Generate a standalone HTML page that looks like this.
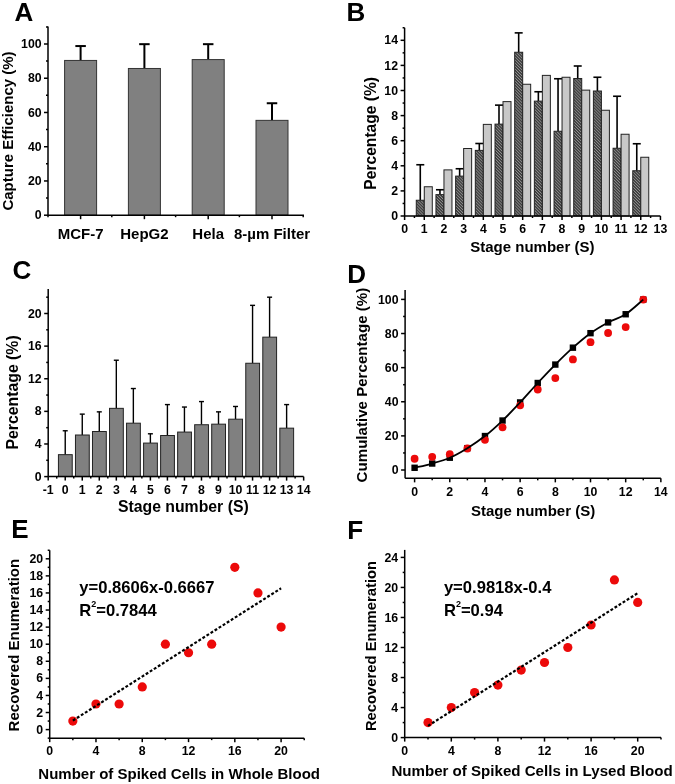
<!DOCTYPE html>
<html><head><meta charset="utf-8"><title>Figure</title>
<style>
html,body{margin:0;padding:0;background:#fff;}
body{width:675px;height:784px;overflow:hidden;}
svg{display:block;font-family:"Liberation Sans", sans-serif;will-change:transform;}
</style></head><body>
<svg width="675" height="784" viewBox="0 0 675 784" font-family='"Liberation Sans", sans-serif' fill="#000">
<defs>
<pattern id="hatch" patternUnits="userSpaceOnUse" width="2.1" height="2.1" patternTransform="rotate(-45)">
<rect width="2.1" height="2.1" fill="#383838"/>
<rect x="0" y="0" width="0.85" height="2.1" fill="#909090"/>
</pattern>
</defs>
<rect width="675" height="784" fill="#fff"/>
<text x="14.50" y="20.50" font-size="26" text-anchor="start" font-weight="bold" >A</text>
<line x1="80.60" y1="60.44" x2="80.60" y2="46.05" stroke="#000" stroke-width="2" />
<line x1="75.35" y1="46.05" x2="85.85" y2="46.05" stroke="#000" stroke-width="2" />
<rect x="64.60" y="60.44" width="32.00" height="154.76" fill="#808080" stroke="#333" stroke-width="1"/>
<line x1="144.40" y1="68.48" x2="144.40" y2="44.17" stroke="#000" stroke-width="2" />
<line x1="139.15" y1="44.17" x2="149.65" y2="44.17" stroke="#000" stroke-width="2" />
<rect x="128.40" y="68.48" width="32.00" height="146.72" fill="#808080" stroke="#333" stroke-width="1"/>
<line x1="208.20" y1="59.58" x2="208.20" y2="44.17" stroke="#000" stroke-width="2" />
<line x1="202.95" y1="44.17" x2="213.45" y2="44.17" stroke="#000" stroke-width="2" />
<rect x="192.20" y="59.58" width="32.00" height="155.62" fill="#808080" stroke="#333" stroke-width="1"/>
<line x1="272.00" y1="120.36" x2="272.00" y2="103.24" stroke="#000" stroke-width="2" />
<line x1="266.75" y1="103.24" x2="277.25" y2="103.24" stroke="#000" stroke-width="2" />
<rect x="256.00" y="120.36" width="32.00" height="94.84" fill="#808080" stroke="#333" stroke-width="1"/>
<line x1="48.00" y1="215.20" x2="304.00" y2="215.20" stroke="#000" stroke-width="1.5" />
<line x1="48.00" y1="215.20" x2="48.00" y2="26.50" stroke="#000" stroke-width="1.5" />
<line x1="44.00" y1="215.20" x2="48.00" y2="215.20" stroke="#000" stroke-width="1.5" />
<text x="41.60" y="219.30" font-size="12.3" text-anchor="end" font-weight="bold" >0</text>
<line x1="44.00" y1="180.96" x2="48.00" y2="180.96" stroke="#000" stroke-width="1.5" />
<text x="41.60" y="185.06" font-size="12.3" text-anchor="end" font-weight="bold" >20</text>
<line x1="44.00" y1="146.72" x2="48.00" y2="146.72" stroke="#000" stroke-width="1.5" />
<text x="41.60" y="150.82" font-size="12.3" text-anchor="end" font-weight="bold" >40</text>
<line x1="44.00" y1="112.48" x2="48.00" y2="112.48" stroke="#000" stroke-width="1.5" />
<text x="41.60" y="116.58" font-size="12.3" text-anchor="end" font-weight="bold" >60</text>
<line x1="44.00" y1="78.24" x2="48.00" y2="78.24" stroke="#000" stroke-width="1.5" />
<text x="41.60" y="82.34" font-size="12.3" text-anchor="end" font-weight="bold" >80</text>
<line x1="44.00" y1="44.00" x2="48.00" y2="44.00" stroke="#000" stroke-width="1.5" />
<text x="41.60" y="48.10" font-size="12.3" text-anchor="end" font-weight="bold" >100</text>
<line x1="46.00" y1="198.08" x2="48.00" y2="198.08" stroke="#000" stroke-width="1.5" />
<line x1="46.00" y1="163.84" x2="48.00" y2="163.84" stroke="#000" stroke-width="1.5" />
<line x1="46.00" y1="129.60" x2="48.00" y2="129.60" stroke="#000" stroke-width="1.5" />
<line x1="46.00" y1="95.36" x2="48.00" y2="95.36" stroke="#000" stroke-width="1.5" />
<line x1="46.00" y1="61.12" x2="48.00" y2="61.12" stroke="#000" stroke-width="1.5" />
<line x1="46.00" y1="26.88" x2="48.00" y2="26.88" stroke="#000" stroke-width="1.5" />
<line x1="80.60" y1="215.20" x2="80.60" y2="219.20" stroke="#000" stroke-width="1.5" />
<line x1="144.40" y1="215.20" x2="144.40" y2="219.20" stroke="#000" stroke-width="1.5" />
<line x1="208.20" y1="215.20" x2="208.20" y2="219.20" stroke="#000" stroke-width="1.5" />
<line x1="272.00" y1="215.20" x2="272.00" y2="219.20" stroke="#000" stroke-width="1.5" />
<line x1="48.00" y1="215.20" x2="48.00" y2="217.20" stroke="#000" stroke-width="1.5" />
<line x1="111.80" y1="215.20" x2="111.80" y2="217.20" stroke="#000" stroke-width="1.5" />
<line x1="175.60" y1="215.20" x2="175.60" y2="217.20" stroke="#000" stroke-width="1.5" />
<line x1="239.40" y1="215.20" x2="239.40" y2="217.20" stroke="#000" stroke-width="1.5" />
<line x1="303.20" y1="215.20" x2="303.20" y2="217.20" stroke="#000" stroke-width="1.5" />
<text x="80.60" y="238.70" font-size="15" text-anchor="middle" font-weight="bold" >MCF-7</text>
<text x="144.40" y="238.70" font-size="15" text-anchor="middle" font-weight="bold" >HepG2</text>
<text x="208.20" y="238.70" font-size="15" text-anchor="middle" font-weight="bold" >Hela</text>
<text x="272.00" y="238.70" font-size="15" text-anchor="middle" font-weight="bold" >8-µm Filter</text>
<text x="0" y="0" font-size="15" text-anchor="middle" font-weight="bold" transform="translate(13.30,131.00) rotate(-90)">Capture Efficiency (%)</text>
<text x="346.60" y="21.30" font-size="26" text-anchor="start" font-weight="bold" >B</text>
<line x1="420.28" y1="200.25" x2="420.28" y2="164.75" stroke="#000" stroke-width="1.6" />
<line x1="416.28" y1="164.75" x2="424.28" y2="164.75" stroke="#000" stroke-width="1.6" />
<rect x="416.28" y="200.25" width="8.00" height="15.75" fill="url(#hatch)" stroke="#222" stroke-width="1"/>
<rect x="424.28" y="186.75" width="8.00" height="29.25" fill="#c8c8c8" stroke="#222" stroke-width="1"/>
<line x1="439.96" y1="194.62" x2="439.96" y2="189.75" stroke="#000" stroke-width="1.6" />
<line x1="435.96" y1="189.75" x2="443.96" y2="189.75" stroke="#000" stroke-width="1.6" />
<rect x="435.96" y="194.62" width="8.00" height="21.38" fill="url(#hatch)" stroke="#222" stroke-width="1"/>
<rect x="443.96" y="169.88" width="8.00" height="46.12" fill="#c8c8c8" stroke="#222" stroke-width="1"/>
<line x1="459.64" y1="176.12" x2="459.64" y2="168.75" stroke="#000" stroke-width="1.6" />
<line x1="455.64" y1="168.75" x2="463.64" y2="168.75" stroke="#000" stroke-width="1.6" />
<rect x="455.64" y="176.12" width="8.00" height="39.88" fill="url(#hatch)" stroke="#222" stroke-width="1"/>
<rect x="463.64" y="148.50" width="8.00" height="67.50" fill="#c8c8c8" stroke="#222" stroke-width="1"/>
<line x1="479.32" y1="150.38" x2="479.32" y2="143.50" stroke="#000" stroke-width="1.6" />
<line x1="475.32" y1="143.50" x2="483.32" y2="143.50" stroke="#000" stroke-width="1.6" />
<rect x="475.32" y="150.38" width="8.00" height="65.62" fill="url(#hatch)" stroke="#222" stroke-width="1"/>
<rect x="483.32" y="124.38" width="8.00" height="91.62" fill="#c8c8c8" stroke="#222" stroke-width="1"/>
<line x1="499.00" y1="124.12" x2="499.00" y2="105.13" stroke="#000" stroke-width="1.6" />
<line x1="495.00" y1="105.13" x2="503.00" y2="105.13" stroke="#000" stroke-width="1.6" />
<rect x="495.00" y="124.12" width="8.00" height="91.88" fill="url(#hatch)" stroke="#222" stroke-width="1"/>
<rect x="503.00" y="101.62" width="8.00" height="114.38" fill="#c8c8c8" stroke="#222" stroke-width="1"/>
<line x1="518.68" y1="52.25" x2="518.68" y2="32.88" stroke="#000" stroke-width="1.6" />
<line x1="514.68" y1="32.88" x2="522.68" y2="32.88" stroke="#000" stroke-width="1.6" />
<rect x="514.68" y="52.25" width="8.00" height="163.75" fill="url(#hatch)" stroke="#222" stroke-width="1"/>
<rect x="522.68" y="84.25" width="8.00" height="131.75" fill="#c8c8c8" stroke="#222" stroke-width="1"/>
<line x1="538.36" y1="101.13" x2="538.36" y2="91.75" stroke="#000" stroke-width="1.6" />
<line x1="534.36" y1="91.75" x2="542.36" y2="91.75" stroke="#000" stroke-width="1.6" />
<rect x="534.36" y="101.13" width="8.00" height="114.87" fill="url(#hatch)" stroke="#222" stroke-width="1"/>
<rect x="542.36" y="75.38" width="8.00" height="140.62" fill="#c8c8c8" stroke="#222" stroke-width="1"/>
<line x1="558.04" y1="131.25" x2="558.04" y2="78.75" stroke="#000" stroke-width="1.6" />
<line x1="554.04" y1="78.75" x2="562.04" y2="78.75" stroke="#000" stroke-width="1.6" />
<rect x="554.04" y="131.25" width="8.00" height="84.75" fill="url(#hatch)" stroke="#222" stroke-width="1"/>
<rect x="562.04" y="77.25" width="8.00" height="138.75" fill="#c8c8c8" stroke="#222" stroke-width="1"/>
<line x1="577.72" y1="78.50" x2="577.72" y2="66.00" stroke="#000" stroke-width="1.6" />
<line x1="573.72" y1="66.00" x2="581.72" y2="66.00" stroke="#000" stroke-width="1.6" />
<rect x="573.72" y="78.50" width="8.00" height="137.50" fill="url(#hatch)" stroke="#222" stroke-width="1"/>
<rect x="581.72" y="90.13" width="8.00" height="125.87" fill="#c8c8c8" stroke="#222" stroke-width="1"/>
<line x1="597.40" y1="91.00" x2="597.40" y2="77.25" stroke="#000" stroke-width="1.6" />
<line x1="593.40" y1="77.25" x2="601.40" y2="77.25" stroke="#000" stroke-width="1.6" />
<rect x="593.40" y="91.00" width="8.00" height="125.00" fill="url(#hatch)" stroke="#222" stroke-width="1"/>
<rect x="601.40" y="110.25" width="8.00" height="105.75" fill="#c8c8c8" stroke="#222" stroke-width="1"/>
<line x1="617.08" y1="148.25" x2="617.08" y2="96.25" stroke="#000" stroke-width="1.6" />
<line x1="613.08" y1="96.25" x2="621.08" y2="96.25" stroke="#000" stroke-width="1.6" />
<rect x="613.08" y="148.25" width="8.00" height="67.75" fill="url(#hatch)" stroke="#222" stroke-width="1"/>
<rect x="621.08" y="134.25" width="8.00" height="81.75" fill="#c8c8c8" stroke="#222" stroke-width="1"/>
<line x1="636.76" y1="170.75" x2="636.76" y2="143.75" stroke="#000" stroke-width="1.6" />
<line x1="632.76" y1="143.75" x2="640.76" y2="143.75" stroke="#000" stroke-width="1.6" />
<rect x="632.76" y="170.75" width="8.00" height="45.25" fill="url(#hatch)" stroke="#222" stroke-width="1"/>
<rect x="640.76" y="157.25" width="8.00" height="58.75" fill="#c8c8c8" stroke="#222" stroke-width="1"/>
<line x1="404.60" y1="216.00" x2="660.44" y2="216.00" stroke="#000" stroke-width="1.5" />
<line x1="404.60" y1="216.00" x2="404.60" y2="27.75" stroke="#000" stroke-width="1.5" />
<line x1="400.60" y1="216.00" x2="404.60" y2="216.00" stroke="#000" stroke-width="1.5" />
<text x="398.00" y="220.10" font-size="12.3" text-anchor="end" font-weight="bold" >0</text>
<line x1="400.60" y1="190.90" x2="404.60" y2="190.90" stroke="#000" stroke-width="1.5" />
<text x="398.00" y="195.00" font-size="12.3" text-anchor="end" font-weight="bold" >2</text>
<line x1="400.60" y1="165.80" x2="404.60" y2="165.80" stroke="#000" stroke-width="1.5" />
<text x="398.00" y="169.90" font-size="12.3" text-anchor="end" font-weight="bold" >4</text>
<line x1="400.60" y1="140.70" x2="404.60" y2="140.70" stroke="#000" stroke-width="1.5" />
<text x="398.00" y="144.80" font-size="12.3" text-anchor="end" font-weight="bold" >6</text>
<line x1="400.60" y1="115.60" x2="404.60" y2="115.60" stroke="#000" stroke-width="1.5" />
<text x="398.00" y="119.70" font-size="12.3" text-anchor="end" font-weight="bold" >8</text>
<line x1="400.60" y1="90.50" x2="404.60" y2="90.50" stroke="#000" stroke-width="1.5" />
<text x="398.00" y="94.60" font-size="12.3" text-anchor="end" font-weight="bold" >10</text>
<line x1="400.60" y1="65.40" x2="404.60" y2="65.40" stroke="#000" stroke-width="1.5" />
<text x="398.00" y="69.50" font-size="12.3" text-anchor="end" font-weight="bold" >12</text>
<line x1="400.60" y1="40.30" x2="404.60" y2="40.30" stroke="#000" stroke-width="1.5" />
<text x="398.00" y="44.40" font-size="12.3" text-anchor="end" font-weight="bold" >14</text>
<line x1="402.60" y1="203.45" x2="404.60" y2="203.45" stroke="#000" stroke-width="1.5" />
<line x1="402.60" y1="178.35" x2="404.60" y2="178.35" stroke="#000" stroke-width="1.5" />
<line x1="402.60" y1="153.25" x2="404.60" y2="153.25" stroke="#000" stroke-width="1.5" />
<line x1="402.60" y1="128.15" x2="404.60" y2="128.15" stroke="#000" stroke-width="1.5" />
<line x1="402.60" y1="103.05" x2="404.60" y2="103.05" stroke="#000" stroke-width="1.5" />
<line x1="402.60" y1="77.95" x2="404.60" y2="77.95" stroke="#000" stroke-width="1.5" />
<line x1="402.60" y1="52.85" x2="404.60" y2="52.85" stroke="#000" stroke-width="1.5" />
<line x1="402.60" y1="27.75" x2="404.60" y2="27.75" stroke="#000" stroke-width="1.5" />
<line x1="404.60" y1="216.00" x2="404.60" y2="220.00" stroke="#000" stroke-width="1.5" />
<text x="404.60" y="233.00" font-size="12.3" text-anchor="middle" font-weight="bold" >0</text>
<line x1="424.28" y1="216.00" x2="424.28" y2="220.00" stroke="#000" stroke-width="1.5" />
<text x="424.28" y="233.00" font-size="12.3" text-anchor="middle" font-weight="bold" >1</text>
<line x1="443.96" y1="216.00" x2="443.96" y2="220.00" stroke="#000" stroke-width="1.5" />
<text x="443.96" y="233.00" font-size="12.3" text-anchor="middle" font-weight="bold" >2</text>
<line x1="463.64" y1="216.00" x2="463.64" y2="220.00" stroke="#000" stroke-width="1.5" />
<text x="463.64" y="233.00" font-size="12.3" text-anchor="middle" font-weight="bold" >3</text>
<line x1="483.32" y1="216.00" x2="483.32" y2="220.00" stroke="#000" stroke-width="1.5" />
<text x="483.32" y="233.00" font-size="12.3" text-anchor="middle" font-weight="bold" >4</text>
<line x1="503.00" y1="216.00" x2="503.00" y2="220.00" stroke="#000" stroke-width="1.5" />
<text x="503.00" y="233.00" font-size="12.3" text-anchor="middle" font-weight="bold" >5</text>
<line x1="522.68" y1="216.00" x2="522.68" y2="220.00" stroke="#000" stroke-width="1.5" />
<text x="522.68" y="233.00" font-size="12.3" text-anchor="middle" font-weight="bold" >6</text>
<line x1="542.36" y1="216.00" x2="542.36" y2="220.00" stroke="#000" stroke-width="1.5" />
<text x="542.36" y="233.00" font-size="12.3" text-anchor="middle" font-weight="bold" >7</text>
<line x1="562.04" y1="216.00" x2="562.04" y2="220.00" stroke="#000" stroke-width="1.5" />
<text x="562.04" y="233.00" font-size="12.3" text-anchor="middle" font-weight="bold" >8</text>
<line x1="581.72" y1="216.00" x2="581.72" y2="220.00" stroke="#000" stroke-width="1.5" />
<text x="581.72" y="233.00" font-size="12.3" text-anchor="middle" font-weight="bold" >9</text>
<line x1="601.40" y1="216.00" x2="601.40" y2="220.00" stroke="#000" stroke-width="1.5" />
<text x="601.40" y="233.00" font-size="12.3" text-anchor="middle" font-weight="bold" >10</text>
<line x1="621.08" y1="216.00" x2="621.08" y2="220.00" stroke="#000" stroke-width="1.5" />
<text x="621.08" y="233.00" font-size="12.3" text-anchor="middle" font-weight="bold" >11</text>
<line x1="640.76" y1="216.00" x2="640.76" y2="220.00" stroke="#000" stroke-width="1.5" />
<text x="640.76" y="233.00" font-size="12.3" text-anchor="middle" font-weight="bold" >12</text>
<line x1="660.44" y1="216.00" x2="660.44" y2="220.00" stroke="#000" stroke-width="1.5" />
<text x="660.44" y="233.00" font-size="12.3" text-anchor="middle" font-weight="bold" >13</text>
<line x1="414.44" y1="216.00" x2="414.44" y2="218.00" stroke="#000" stroke-width="1.5" />
<line x1="434.12" y1="216.00" x2="434.12" y2="218.00" stroke="#000" stroke-width="1.5" />
<line x1="453.80" y1="216.00" x2="453.80" y2="218.00" stroke="#000" stroke-width="1.5" />
<line x1="473.48" y1="216.00" x2="473.48" y2="218.00" stroke="#000" stroke-width="1.5" />
<line x1="493.16" y1="216.00" x2="493.16" y2="218.00" stroke="#000" stroke-width="1.5" />
<line x1="512.84" y1="216.00" x2="512.84" y2="218.00" stroke="#000" stroke-width="1.5" />
<line x1="532.52" y1="216.00" x2="532.52" y2="218.00" stroke="#000" stroke-width="1.5" />
<line x1="552.20" y1="216.00" x2="552.20" y2="218.00" stroke="#000" stroke-width="1.5" />
<line x1="571.88" y1="216.00" x2="571.88" y2="218.00" stroke="#000" stroke-width="1.5" />
<line x1="591.56" y1="216.00" x2="591.56" y2="218.00" stroke="#000" stroke-width="1.5" />
<line x1="611.24" y1="216.00" x2="611.24" y2="218.00" stroke="#000" stroke-width="1.5" />
<line x1="630.92" y1="216.00" x2="630.92" y2="218.00" stroke="#000" stroke-width="1.5" />
<line x1="650.60" y1="216.00" x2="650.60" y2="218.00" stroke="#000" stroke-width="1.5" />
<text x="532.30" y="251.60" font-size="15" text-anchor="middle" font-weight="bold" >Stage number (S)</text>
<text x="0" y="0" font-size="15.6" text-anchor="middle" font-weight="bold" transform="translate(375.60,133.30) rotate(-90)">Percentage (%)</text>
<text x="12.60" y="278.80" font-size="26" text-anchor="start" font-weight="bold" >C</text>
<line x1="65.23" y1="454.66" x2="65.23" y2="430.77" stroke="#000" stroke-width="1.4" />
<line x1="62.73" y1="430.77" x2="67.73" y2="430.77" stroke="#000" stroke-width="1.4" />
<rect x="58.43" y="454.66" width="13.80" height="21.94" fill="#808080" stroke="#222" stroke-width="1"/>
<line x1="82.26" y1="435.01" x2="82.26" y2="414.13" stroke="#000" stroke-width="1.4" />
<line x1="79.76" y1="414.13" x2="84.76" y2="414.13" stroke="#000" stroke-width="1.4" />
<rect x="75.46" y="435.01" width="13.80" height="41.59" fill="#808080" stroke="#222" stroke-width="1"/>
<line x1="99.29" y1="431.50" x2="99.29" y2="411.85" stroke="#000" stroke-width="1.4" />
<line x1="96.79" y1="411.85" x2="101.79" y2="411.85" stroke="#000" stroke-width="1.4" />
<rect x="92.49" y="431.50" width="13.80" height="45.10" fill="#808080" stroke="#222" stroke-width="1"/>
<line x1="116.32" y1="408.34" x2="116.32" y2="360.23" stroke="#000" stroke-width="1.4" />
<line x1="113.82" y1="360.23" x2="118.82" y2="360.23" stroke="#000" stroke-width="1.4" />
<rect x="109.52" y="408.34" width="13.80" height="68.26" fill="#808080" stroke="#222" stroke-width="1"/>
<line x1="133.35" y1="423.18" x2="133.35" y2="388.53" stroke="#000" stroke-width="1.4" />
<line x1="130.85" y1="388.53" x2="135.85" y2="388.53" stroke="#000" stroke-width="1.4" />
<rect x="126.55" y="423.18" width="13.80" height="53.42" fill="#808080" stroke="#222" stroke-width="1"/>
<line x1="150.38" y1="443.08" x2="150.38" y2="433.79" stroke="#000" stroke-width="1.4" />
<line x1="147.88" y1="433.79" x2="152.88" y2="433.79" stroke="#000" stroke-width="1.4" />
<rect x="143.58" y="443.08" width="13.80" height="33.52" fill="#808080" stroke="#222" stroke-width="1"/>
<line x1="167.41" y1="435.50" x2="167.41" y2="404.59" stroke="#000" stroke-width="1.4" />
<line x1="164.91" y1="404.59" x2="169.91" y2="404.59" stroke="#000" stroke-width="1.4" />
<rect x="160.61" y="435.50" width="13.80" height="41.10" fill="#808080" stroke="#222" stroke-width="1"/>
<line x1="184.44" y1="432.07" x2="184.44" y2="407.04" stroke="#000" stroke-width="1.4" />
<line x1="181.94" y1="407.04" x2="186.94" y2="407.04" stroke="#000" stroke-width="1.4" />
<rect x="177.64" y="432.07" width="13.80" height="44.53" fill="#808080" stroke="#222" stroke-width="1"/>
<line x1="201.47" y1="424.73" x2="201.47" y2="401.57" stroke="#000" stroke-width="1.4" />
<line x1="198.97" y1="401.57" x2="203.97" y2="401.57" stroke="#000" stroke-width="1.4" />
<rect x="194.67" y="424.73" width="13.80" height="51.87" fill="#808080" stroke="#222" stroke-width="1"/>
<line x1="218.50" y1="424.16" x2="218.50" y2="411.85" stroke="#000" stroke-width="1.4" />
<line x1="216.00" y1="411.85" x2="221.00" y2="411.85" stroke="#000" stroke-width="1.4" />
<rect x="211.70" y="424.16" width="13.80" height="52.44" fill="#808080" stroke="#222" stroke-width="1"/>
<line x1="235.53" y1="419.19" x2="235.53" y2="406.47" stroke="#000" stroke-width="1.4" />
<line x1="233.03" y1="406.47" x2="238.03" y2="406.47" stroke="#000" stroke-width="1.4" />
<rect x="228.73" y="419.19" width="13.80" height="57.41" fill="#808080" stroke="#222" stroke-width="1"/>
<line x1="252.56" y1="363.25" x2="252.56" y2="305.35" stroke="#000" stroke-width="1.4" />
<line x1="250.06" y1="305.35" x2="255.06" y2="305.35" stroke="#000" stroke-width="1.4" />
<rect x="245.76" y="363.25" width="13.80" height="113.35" fill="#808080" stroke="#222" stroke-width="1"/>
<line x1="269.59" y1="337.15" x2="269.59" y2="297.19" stroke="#000" stroke-width="1.4" />
<line x1="267.09" y1="297.19" x2="272.09" y2="297.19" stroke="#000" stroke-width="1.4" />
<rect x="262.79" y="337.15" width="13.80" height="139.45" fill="#808080" stroke="#222" stroke-width="1"/>
<line x1="286.62" y1="428.16" x2="286.62" y2="404.59" stroke="#000" stroke-width="1.4" />
<line x1="284.12" y1="404.59" x2="289.12" y2="404.59" stroke="#000" stroke-width="1.4" />
<rect x="279.82" y="428.16" width="13.80" height="48.44" fill="#808080" stroke="#222" stroke-width="1"/>
<line x1="48.20" y1="476.60" x2="303.65" y2="476.60" stroke="#000" stroke-width="1.5" />
<line x1="48.20" y1="476.60" x2="48.20" y2="289.04" stroke="#000" stroke-width="1.5" />
<line x1="44.20" y1="476.60" x2="48.20" y2="476.60" stroke="#000" stroke-width="1.5" />
<text x="41.60" y="480.70" font-size="12.3" text-anchor="end" font-weight="bold" >0</text>
<line x1="44.20" y1="443.98" x2="48.20" y2="443.98" stroke="#000" stroke-width="1.5" />
<text x="41.60" y="448.08" font-size="12.3" text-anchor="end" font-weight="bold" >4</text>
<line x1="44.20" y1="411.36" x2="48.20" y2="411.36" stroke="#000" stroke-width="1.5" />
<text x="41.60" y="415.46" font-size="12.3" text-anchor="end" font-weight="bold" >8</text>
<line x1="44.20" y1="378.74" x2="48.20" y2="378.74" stroke="#000" stroke-width="1.5" />
<text x="41.60" y="382.84" font-size="12.3" text-anchor="end" font-weight="bold" >12</text>
<line x1="44.20" y1="346.12" x2="48.20" y2="346.12" stroke="#000" stroke-width="1.5" />
<text x="41.60" y="350.22" font-size="12.3" text-anchor="end" font-weight="bold" >16</text>
<line x1="44.20" y1="313.50" x2="48.20" y2="313.50" stroke="#000" stroke-width="1.5" />
<text x="41.60" y="317.60" font-size="12.3" text-anchor="end" font-weight="bold" >20</text>
<line x1="46.20" y1="460.29" x2="48.20" y2="460.29" stroke="#000" stroke-width="1.5" />
<line x1="46.20" y1="427.67" x2="48.20" y2="427.67" stroke="#000" stroke-width="1.5" />
<line x1="46.20" y1="395.05" x2="48.20" y2="395.05" stroke="#000" stroke-width="1.5" />
<line x1="46.20" y1="362.43" x2="48.20" y2="362.43" stroke="#000" stroke-width="1.5" />
<line x1="46.20" y1="329.81" x2="48.20" y2="329.81" stroke="#000" stroke-width="1.5" />
<line x1="46.20" y1="297.19" x2="48.20" y2="297.19" stroke="#000" stroke-width="1.5" />
<line x1="48.20" y1="476.60" x2="48.20" y2="480.60" stroke="#000" stroke-width="1.5" />
<text x="48.20" y="493.60" font-size="12.3" text-anchor="middle" font-weight="bold" >-1</text>
<line x1="65.23" y1="476.60" x2="65.23" y2="480.60" stroke="#000" stroke-width="1.5" />
<text x="65.23" y="493.60" font-size="12.3" text-anchor="middle" font-weight="bold" >0</text>
<line x1="82.26" y1="476.60" x2="82.26" y2="480.60" stroke="#000" stroke-width="1.5" />
<text x="82.26" y="493.60" font-size="12.3" text-anchor="middle" font-weight="bold" >1</text>
<line x1="99.29" y1="476.60" x2="99.29" y2="480.60" stroke="#000" stroke-width="1.5" />
<text x="99.29" y="493.60" font-size="12.3" text-anchor="middle" font-weight="bold" >2</text>
<line x1="116.32" y1="476.60" x2="116.32" y2="480.60" stroke="#000" stroke-width="1.5" />
<text x="116.32" y="493.60" font-size="12.3" text-anchor="middle" font-weight="bold" >3</text>
<line x1="133.35" y1="476.60" x2="133.35" y2="480.60" stroke="#000" stroke-width="1.5" />
<text x="133.35" y="493.60" font-size="12.3" text-anchor="middle" font-weight="bold" >4</text>
<line x1="150.38" y1="476.60" x2="150.38" y2="480.60" stroke="#000" stroke-width="1.5" />
<text x="150.38" y="493.60" font-size="12.3" text-anchor="middle" font-weight="bold" >5</text>
<line x1="167.41" y1="476.60" x2="167.41" y2="480.60" stroke="#000" stroke-width="1.5" />
<text x="167.41" y="493.60" font-size="12.3" text-anchor="middle" font-weight="bold" >6</text>
<line x1="184.44" y1="476.60" x2="184.44" y2="480.60" stroke="#000" stroke-width="1.5" />
<text x="184.44" y="493.60" font-size="12.3" text-anchor="middle" font-weight="bold" >7</text>
<line x1="201.47" y1="476.60" x2="201.47" y2="480.60" stroke="#000" stroke-width="1.5" />
<text x="201.47" y="493.60" font-size="12.3" text-anchor="middle" font-weight="bold" >8</text>
<line x1="218.50" y1="476.60" x2="218.50" y2="480.60" stroke="#000" stroke-width="1.5" />
<text x="218.50" y="493.60" font-size="12.3" text-anchor="middle" font-weight="bold" >9</text>
<line x1="235.53" y1="476.60" x2="235.53" y2="480.60" stroke="#000" stroke-width="1.5" />
<text x="235.53" y="493.60" font-size="12.3" text-anchor="middle" font-weight="bold" >10</text>
<line x1="252.56" y1="476.60" x2="252.56" y2="480.60" stroke="#000" stroke-width="1.5" />
<text x="252.56" y="493.60" font-size="12.3" text-anchor="middle" font-weight="bold" >11</text>
<line x1="269.59" y1="476.60" x2="269.59" y2="480.60" stroke="#000" stroke-width="1.5" />
<text x="269.59" y="493.60" font-size="12.3" text-anchor="middle" font-weight="bold" >12</text>
<line x1="286.62" y1="476.60" x2="286.62" y2="480.60" stroke="#000" stroke-width="1.5" />
<text x="286.62" y="493.60" font-size="12.3" text-anchor="middle" font-weight="bold" >13</text>
<line x1="303.65" y1="476.60" x2="303.65" y2="480.60" stroke="#000" stroke-width="1.5" />
<text x="303.65" y="493.60" font-size="12.3" text-anchor="middle" font-weight="bold" >14</text>
<line x1="56.72" y1="476.60" x2="56.72" y2="478.60" stroke="#000" stroke-width="1.5" />
<line x1="73.75" y1="476.60" x2="73.75" y2="478.60" stroke="#000" stroke-width="1.5" />
<line x1="90.78" y1="476.60" x2="90.78" y2="478.60" stroke="#000" stroke-width="1.5" />
<line x1="107.81" y1="476.60" x2="107.81" y2="478.60" stroke="#000" stroke-width="1.5" />
<line x1="124.84" y1="476.60" x2="124.84" y2="478.60" stroke="#000" stroke-width="1.5" />
<line x1="141.87" y1="476.60" x2="141.87" y2="478.60" stroke="#000" stroke-width="1.5" />
<line x1="158.90" y1="476.60" x2="158.90" y2="478.60" stroke="#000" stroke-width="1.5" />
<line x1="175.93" y1="476.60" x2="175.93" y2="478.60" stroke="#000" stroke-width="1.5" />
<line x1="192.95" y1="476.60" x2="192.95" y2="478.60" stroke="#000" stroke-width="1.5" />
<line x1="209.99" y1="476.60" x2="209.99" y2="478.60" stroke="#000" stroke-width="1.5" />
<line x1="227.01" y1="476.60" x2="227.01" y2="478.60" stroke="#000" stroke-width="1.5" />
<line x1="244.05" y1="476.60" x2="244.05" y2="478.60" stroke="#000" stroke-width="1.5" />
<line x1="261.07" y1="476.60" x2="261.07" y2="478.60" stroke="#000" stroke-width="1.5" />
<line x1="278.11" y1="476.60" x2="278.11" y2="478.60" stroke="#000" stroke-width="1.5" />
<line x1="295.13" y1="476.60" x2="295.13" y2="478.60" stroke="#000" stroke-width="1.5" />
<text x="183.30" y="512.30" font-size="15.8" text-anchor="middle" font-weight="bold" >Stage number (S)</text>
<text x="0" y="0" font-size="15.8" text-anchor="middle" font-weight="bold" transform="translate(17.90,392.40) rotate(-90)">Percentage (%)</text>
<text x="347.20" y="282.80" font-size="26" text-anchor="start" font-weight="bold" >D</text>
<rect x="411.40" y="464.58" width="6.4" height="6.4" fill="#000"/>
<rect x="428.99" y="460.32" width="6.4" height="6.4" fill="#000"/>
<rect x="446.58" y="454.52" width="6.4" height="6.4" fill="#000"/>
<rect x="464.17" y="444.96" width="6.4" height="6.4" fill="#000"/>
<rect x="481.76" y="432.85" width="6.4" height="6.4" fill="#000"/>
<rect x="499.35" y="417.33" width="6.4" height="6.4" fill="#000"/>
<rect x="516.94" y="399.24" width="6.4" height="6.4" fill="#000"/>
<rect x="534.53" y="379.79" width="6.4" height="6.4" fill="#000"/>
<rect x="552.12" y="361.37" width="6.4" height="6.4" fill="#000"/>
<rect x="569.71" y="344.48" width="6.4" height="6.4" fill="#000"/>
<rect x="587.30" y="329.98" width="6.4" height="6.4" fill="#000"/>
<rect x="604.89" y="319.23" width="6.4" height="6.4" fill="#000"/>
<rect x="622.48" y="311.04" width="6.4" height="6.4" fill="#000"/>
<rect x="640.07" y="296.37" width="6.4" height="6.4" fill="#000"/>
<circle cx="414.60" cy="458.74" r="3.9" fill="#ec0a0a"/>
<circle cx="432.19" cy="456.86" r="3.9" fill="#ec0a0a"/>
<circle cx="449.78" cy="454.13" r="3.9" fill="#ec0a0a"/>
<circle cx="467.37" cy="448.50" r="3.9" fill="#ec0a0a"/>
<circle cx="484.96" cy="439.80" r="3.9" fill="#ec0a0a"/>
<circle cx="502.55" cy="427.35" r="3.9" fill="#ec0a0a"/>
<circle cx="520.14" cy="405.34" r="3.9" fill="#ec0a0a"/>
<circle cx="537.73" cy="389.48" r="3.9" fill="#ec0a0a"/>
<circle cx="555.32" cy="378.05" r="3.9" fill="#ec0a0a"/>
<circle cx="572.91" cy="359.45" r="3.9" fill="#ec0a0a"/>
<circle cx="590.50" cy="342.22" r="3.9" fill="#ec0a0a"/>
<circle cx="608.09" cy="333.01" r="3.9" fill="#ec0a0a"/>
<circle cx="625.68" cy="327.04" r="3.9" fill="#ec0a0a"/>
<circle cx="643.27" cy="299.57" r="3.9" fill="#ec0a0a"/>
<path d="M414.60,467.78 C417.53,467.07 426.33,465.19 432.19,463.52 C438.05,461.84 443.92,460.28 449.78,457.72 C455.64,455.16 461.51,451.77 467.37,448.16 C473.23,444.55 479.10,440.66 484.96,436.05 C490.82,431.44 496.69,426.13 502.55,420.53 C508.41,414.92 514.28,408.70 520.14,402.44 C526.00,396.19 531.87,389.31 537.73,382.99 C543.59,376.68 549.46,370.45 555.32,364.57 C561.18,358.68 567.05,352.91 572.91,347.68 C578.77,342.45 584.64,337.39 590.50,333.18 C596.36,328.97 602.23,325.59 608.09,322.43 C613.95,319.27 619.82,318.05 625.68,314.24 C631.54,310.43 640.34,302.02 643.27,299.57" fill="none" stroke="#000" stroke-width="1.8"/>
<line x1="405.10" y1="478.36" x2="660.86" y2="478.36" stroke="#000" stroke-width="1.5" />
<line x1="405.10" y1="478.36" x2="405.10" y2="290.02" stroke="#000" stroke-width="1.5" />
<line x1="401.10" y1="470.00" x2="405.10" y2="470.00" stroke="#000" stroke-width="1.5" />
<text x="398.50" y="474.10" font-size="12.3" text-anchor="end" font-weight="bold" >0</text>
<line x1="401.10" y1="435.88" x2="405.10" y2="435.88" stroke="#000" stroke-width="1.5" />
<text x="398.50" y="439.98" font-size="12.3" text-anchor="end" font-weight="bold" >20</text>
<line x1="401.10" y1="401.76" x2="405.10" y2="401.76" stroke="#000" stroke-width="1.5" />
<text x="398.50" y="405.86" font-size="12.3" text-anchor="end" font-weight="bold" >40</text>
<line x1="401.10" y1="367.64" x2="405.10" y2="367.64" stroke="#000" stroke-width="1.5" />
<text x="398.50" y="371.74" font-size="12.3" text-anchor="end" font-weight="bold" >60</text>
<line x1="401.10" y1="333.52" x2="405.10" y2="333.52" stroke="#000" stroke-width="1.5" />
<text x="398.50" y="337.62" font-size="12.3" text-anchor="end" font-weight="bold" >80</text>
<line x1="401.10" y1="299.40" x2="405.10" y2="299.40" stroke="#000" stroke-width="1.5" />
<text x="398.50" y="303.50" font-size="12.3" text-anchor="end" font-weight="bold" >100</text>
<line x1="403.10" y1="452.94" x2="405.10" y2="452.94" stroke="#000" stroke-width="1.5" />
<line x1="403.10" y1="418.82" x2="405.10" y2="418.82" stroke="#000" stroke-width="1.5" />
<line x1="403.10" y1="384.70" x2="405.10" y2="384.70" stroke="#000" stroke-width="1.5" />
<line x1="403.10" y1="350.58" x2="405.10" y2="350.58" stroke="#000" stroke-width="1.5" />
<line x1="403.10" y1="316.46" x2="405.10" y2="316.46" stroke="#000" stroke-width="1.5" />
<line x1="414.60" y1="478.36" x2="414.60" y2="482.36" stroke="#000" stroke-width="1.5" />
<text x="414.60" y="495.80" font-size="12.3" text-anchor="middle" font-weight="bold" >0</text>
<line x1="449.78" y1="478.36" x2="449.78" y2="482.36" stroke="#000" stroke-width="1.5" />
<text x="449.78" y="495.80" font-size="12.3" text-anchor="middle" font-weight="bold" >2</text>
<line x1="484.96" y1="478.36" x2="484.96" y2="482.36" stroke="#000" stroke-width="1.5" />
<text x="484.96" y="495.80" font-size="12.3" text-anchor="middle" font-weight="bold" >4</text>
<line x1="520.14" y1="478.36" x2="520.14" y2="482.36" stroke="#000" stroke-width="1.5" />
<text x="520.14" y="495.80" font-size="12.3" text-anchor="middle" font-weight="bold" >6</text>
<line x1="555.32" y1="478.36" x2="555.32" y2="482.36" stroke="#000" stroke-width="1.5" />
<text x="555.32" y="495.80" font-size="12.3" text-anchor="middle" font-weight="bold" >8</text>
<line x1="590.50" y1="478.36" x2="590.50" y2="482.36" stroke="#000" stroke-width="1.5" />
<text x="590.50" y="495.80" font-size="12.3" text-anchor="middle" font-weight="bold" >10</text>
<line x1="625.68" y1="478.36" x2="625.68" y2="482.36" stroke="#000" stroke-width="1.5" />
<text x="625.68" y="495.80" font-size="12.3" text-anchor="middle" font-weight="bold" >12</text>
<line x1="660.86" y1="478.36" x2="660.86" y2="482.36" stroke="#000" stroke-width="1.5" />
<text x="660.86" y="495.80" font-size="12.3" text-anchor="middle" font-weight="bold" >14</text>
<line x1="432.19" y1="478.36" x2="432.19" y2="480.36" stroke="#000" stroke-width="1.5" />
<line x1="467.37" y1="478.36" x2="467.37" y2="480.36" stroke="#000" stroke-width="1.5" />
<line x1="502.55" y1="478.36" x2="502.55" y2="480.36" stroke="#000" stroke-width="1.5" />
<line x1="537.73" y1="478.36" x2="537.73" y2="480.36" stroke="#000" stroke-width="1.5" />
<line x1="572.91" y1="478.36" x2="572.91" y2="480.36" stroke="#000" stroke-width="1.5" />
<line x1="608.09" y1="478.36" x2="608.09" y2="480.36" stroke="#000" stroke-width="1.5" />
<line x1="643.27" y1="478.36" x2="643.27" y2="480.36" stroke="#000" stroke-width="1.5" />
<text x="533.10" y="516.10" font-size="15" text-anchor="middle" font-weight="bold" >Stage number (S)</text>
<text x="0" y="0" font-size="15.1" text-anchor="middle" font-weight="bold" transform="translate(367.40,385.10) rotate(-90)">Cumulative Percentage (%)</text>
<text x="11.30" y="538.40" font-size="26" text-anchor="start" font-weight="bold" >E</text>
<circle cx="72.84" cy="721.06" r="4.6" fill="#ec0a0a"/>
<circle cx="95.98" cy="703.98" r="4.6" fill="#ec0a0a"/>
<circle cx="119.12" cy="703.98" r="4.6" fill="#ec0a0a"/>
<circle cx="142.26" cy="686.90" r="4.6" fill="#ec0a0a"/>
<circle cx="165.40" cy="644.20" r="4.6" fill="#ec0a0a"/>
<circle cx="188.54" cy="652.74" r="4.6" fill="#ec0a0a"/>
<circle cx="211.68" cy="644.20" r="4.6" fill="#ec0a0a"/>
<circle cx="234.82" cy="567.34" r="4.6" fill="#ec0a0a"/>
<circle cx="257.96" cy="592.96" r="4.6" fill="#ec0a0a"/>
<circle cx="281.10" cy="627.12" r="4.6" fill="#ec0a0a"/>
<line x1="72.84" y1="720.59" x2="281.10" y2="588.30" stroke="#000" stroke-width="2.2" stroke-dasharray="2.9,1.9"/>
<line x1="49.70" y1="738.14" x2="304.24" y2="738.14" stroke="#000" stroke-width="1.5" />
<line x1="49.70" y1="738.14" x2="49.70" y2="550.26" stroke="#000" stroke-width="1.5" />
<line x1="45.70" y1="729.60" x2="49.70" y2="729.60" stroke="#000" stroke-width="1.5" />
<text x="43.10" y="733.70" font-size="12.3" text-anchor="end" font-weight="bold" >0</text>
<line x1="45.70" y1="712.52" x2="49.70" y2="712.52" stroke="#000" stroke-width="1.5" />
<text x="43.10" y="716.62" font-size="12.3" text-anchor="end" font-weight="bold" >2</text>
<line x1="45.70" y1="695.44" x2="49.70" y2="695.44" stroke="#000" stroke-width="1.5" />
<text x="43.10" y="699.54" font-size="12.3" text-anchor="end" font-weight="bold" >4</text>
<line x1="45.70" y1="678.36" x2="49.70" y2="678.36" stroke="#000" stroke-width="1.5" />
<text x="43.10" y="682.46" font-size="12.3" text-anchor="end" font-weight="bold" >6</text>
<line x1="45.70" y1="661.28" x2="49.70" y2="661.28" stroke="#000" stroke-width="1.5" />
<text x="43.10" y="665.38" font-size="12.3" text-anchor="end" font-weight="bold" >8</text>
<line x1="45.70" y1="644.20" x2="49.70" y2="644.20" stroke="#000" stroke-width="1.5" />
<text x="43.10" y="648.30" font-size="12.3" text-anchor="end" font-weight="bold" >10</text>
<line x1="45.70" y1="627.12" x2="49.70" y2="627.12" stroke="#000" stroke-width="1.5" />
<text x="43.10" y="631.22" font-size="12.3" text-anchor="end" font-weight="bold" >12</text>
<line x1="45.70" y1="610.04" x2="49.70" y2="610.04" stroke="#000" stroke-width="1.5" />
<text x="43.10" y="614.14" font-size="12.3" text-anchor="end" font-weight="bold" >14</text>
<line x1="45.70" y1="592.96" x2="49.70" y2="592.96" stroke="#000" stroke-width="1.5" />
<text x="43.10" y="597.06" font-size="12.3" text-anchor="end" font-weight="bold" >16</text>
<line x1="45.70" y1="575.88" x2="49.70" y2="575.88" stroke="#000" stroke-width="1.5" />
<text x="43.10" y="579.98" font-size="12.3" text-anchor="end" font-weight="bold" >18</text>
<line x1="45.70" y1="558.80" x2="49.70" y2="558.80" stroke="#000" stroke-width="1.5" />
<text x="43.10" y="562.90" font-size="12.3" text-anchor="end" font-weight="bold" >20</text>
<line x1="47.70" y1="738.14" x2="49.70" y2="738.14" stroke="#000" stroke-width="1.5" />
<line x1="47.70" y1="721.06" x2="49.70" y2="721.06" stroke="#000" stroke-width="1.5" />
<line x1="47.70" y1="703.98" x2="49.70" y2="703.98" stroke="#000" stroke-width="1.5" />
<line x1="47.70" y1="686.90" x2="49.70" y2="686.90" stroke="#000" stroke-width="1.5" />
<line x1="47.70" y1="669.82" x2="49.70" y2="669.82" stroke="#000" stroke-width="1.5" />
<line x1="47.70" y1="652.74" x2="49.70" y2="652.74" stroke="#000" stroke-width="1.5" />
<line x1="47.70" y1="635.66" x2="49.70" y2="635.66" stroke="#000" stroke-width="1.5" />
<line x1="47.70" y1="618.58" x2="49.70" y2="618.58" stroke="#000" stroke-width="1.5" />
<line x1="47.70" y1="601.50" x2="49.70" y2="601.50" stroke="#000" stroke-width="1.5" />
<line x1="47.70" y1="584.42" x2="49.70" y2="584.42" stroke="#000" stroke-width="1.5" />
<line x1="47.70" y1="567.34" x2="49.70" y2="567.34" stroke="#000" stroke-width="1.5" />
<line x1="47.70" y1="550.26" x2="49.70" y2="550.26" stroke="#000" stroke-width="1.5" />
<line x1="49.70" y1="738.14" x2="49.70" y2="742.14" stroke="#000" stroke-width="1.5" />
<text x="49.70" y="755.20" font-size="12.3" text-anchor="middle" font-weight="bold" >0</text>
<line x1="95.98" y1="738.14" x2="95.98" y2="742.14" stroke="#000" stroke-width="1.5" />
<text x="95.98" y="755.20" font-size="12.3" text-anchor="middle" font-weight="bold" >4</text>
<line x1="142.26" y1="738.14" x2="142.26" y2="742.14" stroke="#000" stroke-width="1.5" />
<text x="142.26" y="755.20" font-size="12.3" text-anchor="middle" font-weight="bold" >8</text>
<line x1="188.54" y1="738.14" x2="188.54" y2="742.14" stroke="#000" stroke-width="1.5" />
<text x="188.54" y="755.20" font-size="12.3" text-anchor="middle" font-weight="bold" >12</text>
<line x1="234.82" y1="738.14" x2="234.82" y2="742.14" stroke="#000" stroke-width="1.5" />
<text x="234.82" y="755.20" font-size="12.3" text-anchor="middle" font-weight="bold" >16</text>
<line x1="281.10" y1="738.14" x2="281.10" y2="742.14" stroke="#000" stroke-width="1.5" />
<text x="281.10" y="755.20" font-size="12.3" text-anchor="middle" font-weight="bold" >20</text>
<line x1="72.84" y1="738.14" x2="72.84" y2="740.14" stroke="#000" stroke-width="1.5" />
<line x1="119.12" y1="738.14" x2="119.12" y2="740.14" stroke="#000" stroke-width="1.5" />
<line x1="165.40" y1="738.14" x2="165.40" y2="740.14" stroke="#000" stroke-width="1.5" />
<line x1="211.68" y1="738.14" x2="211.68" y2="740.14" stroke="#000" stroke-width="1.5" />
<line x1="257.96" y1="738.14" x2="257.96" y2="740.14" stroke="#000" stroke-width="1.5" />
<line x1="304.24" y1="738.14" x2="304.24" y2="740.14" stroke="#000" stroke-width="1.5" />
<text x="79.30" y="592.70" font-size="16.6" text-anchor="start" font-weight="bold" >y=0.8606x-0.6667</text>
<text x="79.30" y="615.60" font-size="16.6" text-anchor="start" font-weight="bold" >R<tspan font-size="9" dy="-9">2</tspan><tspan dy="9">=0.7844</tspan></text>
<text x="179.20" y="778.90" font-size="15" text-anchor="middle" font-weight="bold" >Number of Spiked Cells in Whole Blood</text>
<text x="0" y="0" font-size="15" text-anchor="middle" font-weight="bold" transform="translate(18.80,645.10) rotate(-90)">Recovered Enumeration</text>
<text x="347.30" y="538.70" font-size="26" text-anchor="start" font-weight="bold" >F</text>
<circle cx="428.00" cy="722.58" r="4.6" fill="#ec0a0a"/>
<circle cx="451.30" cy="707.57" r="4.6" fill="#ec0a0a"/>
<circle cx="474.60" cy="692.55" r="4.6" fill="#ec0a0a"/>
<circle cx="497.90" cy="685.04" r="4.6" fill="#ec0a0a"/>
<circle cx="521.20" cy="670.03" r="4.6" fill="#ec0a0a"/>
<circle cx="544.50" cy="662.52" r="4.6" fill="#ec0a0a"/>
<circle cx="567.80" cy="647.50" r="4.6" fill="#ec0a0a"/>
<circle cx="591.10" cy="624.98" r="4.6" fill="#ec0a0a"/>
<circle cx="614.40" cy="579.93" r="4.6" fill="#ec0a0a"/>
<circle cx="637.70" cy="602.46" r="4.6" fill="#ec0a0a"/>
<line x1="428.00" y1="725.86" x2="637.70" y2="593.18" stroke="#000" stroke-width="2.2" stroke-dasharray="2.9,1.9"/>
<line x1="404.70" y1="737.60" x2="661.00" y2="737.60" stroke="#000" stroke-width="1.5" />
<line x1="404.70" y1="737.60" x2="404.70" y2="549.90" stroke="#000" stroke-width="1.5" />
<line x1="400.70" y1="737.60" x2="404.70" y2="737.60" stroke="#000" stroke-width="1.5" />
<text x="398.10" y="741.70" font-size="12.3" text-anchor="end" font-weight="bold" >0</text>
<line x1="400.70" y1="707.57" x2="404.70" y2="707.57" stroke="#000" stroke-width="1.5" />
<text x="398.10" y="711.67" font-size="12.3" text-anchor="end" font-weight="bold" >4</text>
<line x1="400.70" y1="677.54" x2="404.70" y2="677.54" stroke="#000" stroke-width="1.5" />
<text x="398.10" y="681.64" font-size="12.3" text-anchor="end" font-weight="bold" >8</text>
<line x1="400.70" y1="647.50" x2="404.70" y2="647.50" stroke="#000" stroke-width="1.5" />
<text x="398.10" y="651.60" font-size="12.3" text-anchor="end" font-weight="bold" >12</text>
<line x1="400.70" y1="617.47" x2="404.70" y2="617.47" stroke="#000" stroke-width="1.5" />
<text x="398.10" y="621.57" font-size="12.3" text-anchor="end" font-weight="bold" >16</text>
<line x1="400.70" y1="587.44" x2="404.70" y2="587.44" stroke="#000" stroke-width="1.5" />
<text x="398.10" y="591.54" font-size="12.3" text-anchor="end" font-weight="bold" >20</text>
<line x1="400.70" y1="557.41" x2="404.70" y2="557.41" stroke="#000" stroke-width="1.5" />
<text x="398.10" y="561.51" font-size="12.3" text-anchor="end" font-weight="bold" >24</text>
<line x1="402.70" y1="722.58" x2="404.70" y2="722.58" stroke="#000" stroke-width="1.5" />
<line x1="402.70" y1="692.55" x2="404.70" y2="692.55" stroke="#000" stroke-width="1.5" />
<line x1="402.70" y1="662.52" x2="404.70" y2="662.52" stroke="#000" stroke-width="1.5" />
<line x1="402.70" y1="632.49" x2="404.70" y2="632.49" stroke="#000" stroke-width="1.5" />
<line x1="402.70" y1="602.46" x2="404.70" y2="602.46" stroke="#000" stroke-width="1.5" />
<line x1="402.70" y1="572.42" x2="404.70" y2="572.42" stroke="#000" stroke-width="1.5" />
<line x1="404.70" y1="737.60" x2="404.70" y2="741.60" stroke="#000" stroke-width="1.5" />
<text x="404.70" y="755.00" font-size="12.3" text-anchor="middle" font-weight="bold" >0</text>
<line x1="451.30" y1="737.60" x2="451.30" y2="741.60" stroke="#000" stroke-width="1.5" />
<text x="451.30" y="755.00" font-size="12.3" text-anchor="middle" font-weight="bold" >4</text>
<line x1="497.90" y1="737.60" x2="497.90" y2="741.60" stroke="#000" stroke-width="1.5" />
<text x="497.90" y="755.00" font-size="12.3" text-anchor="middle" font-weight="bold" >8</text>
<line x1="544.50" y1="737.60" x2="544.50" y2="741.60" stroke="#000" stroke-width="1.5" />
<text x="544.50" y="755.00" font-size="12.3" text-anchor="middle" font-weight="bold" >12</text>
<line x1="591.10" y1="737.60" x2="591.10" y2="741.60" stroke="#000" stroke-width="1.5" />
<text x="591.10" y="755.00" font-size="12.3" text-anchor="middle" font-weight="bold" >16</text>
<line x1="637.70" y1="737.60" x2="637.70" y2="741.60" stroke="#000" stroke-width="1.5" />
<text x="637.70" y="755.00" font-size="12.3" text-anchor="middle" font-weight="bold" >20</text>
<line x1="428.00" y1="737.60" x2="428.00" y2="739.60" stroke="#000" stroke-width="1.5" />
<line x1="474.60" y1="737.60" x2="474.60" y2="739.60" stroke="#000" stroke-width="1.5" />
<line x1="521.20" y1="737.60" x2="521.20" y2="739.60" stroke="#000" stroke-width="1.5" />
<line x1="567.80" y1="737.60" x2="567.80" y2="739.60" stroke="#000" stroke-width="1.5" />
<line x1="614.40" y1="737.60" x2="614.40" y2="739.60" stroke="#000" stroke-width="1.5" />
<line x1="661.00" y1="737.60" x2="661.00" y2="739.60" stroke="#000" stroke-width="1.5" />
<text x="443.90" y="592.70" font-size="16.6" text-anchor="start" font-weight="bold" >y=0.9818x-0.4</text>
<text x="443.90" y="615.60" font-size="16.6" text-anchor="start" font-weight="bold" >R<tspan font-size="9" dy="-9">2</tspan><tspan dy="9">=0.94</tspan></text>
<text x="532.00" y="776.10" font-size="15.1" text-anchor="middle" font-weight="bold" >Number of Spiked Cells in Lysed Blood</text>
<text x="0" y="0" font-size="14.8" text-anchor="middle" font-weight="bold" transform="translate(375.90,646.00) rotate(-90)">Recovered Enumeration</text>
</svg>
</body></html>
